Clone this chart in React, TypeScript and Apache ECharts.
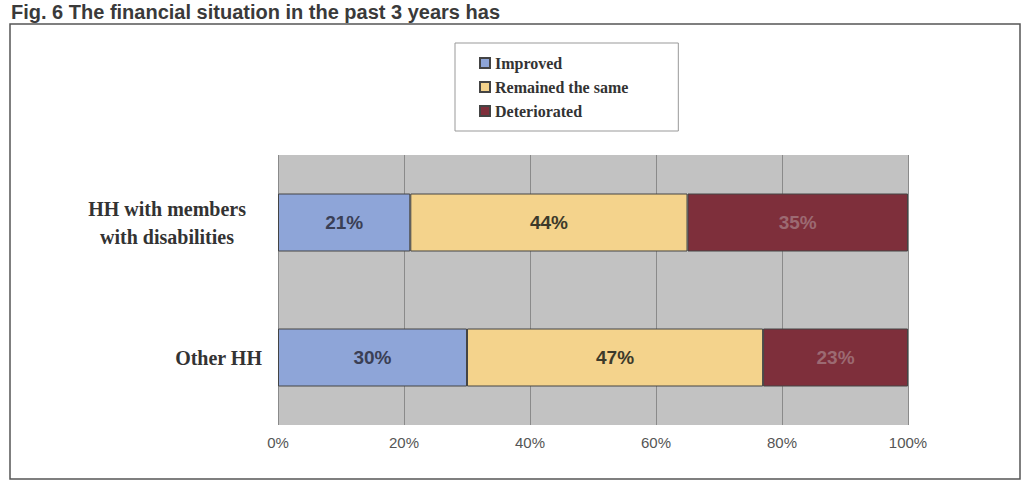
import React, { useEffect, useRef } from "react";
import * as echarts from "echarts";

const categories = ["Other HH", "HH with members\nwith disabilities"];
const seriesNames = ["Improved", "Remained the same", "Deteriorated"];
const improved = [30, 21];
const remained = [47, 44];
const deteriorated = [23, 35];
const xTicks = [0, 20, 40, 60, 80, 100];
const colors = ["#8ea5d8", "#f4d38c", "#7e2f3b"];
const labelColors = ["#3a3f55", "#3d3a2a", "#9c6a72"];

const labelFont = {
  fontFamily: "Liberation Serif, Times New Roman, serif",
  fontWeight: "bold" as const,
  fontSize: 20,
  color: "#333",
  lineHeight: 28,
};

export default function App() {
  const ref = useRef<HTMLDivElement>(null);
  useEffect(() => {
    const chart = echarts.init(ref.current!, undefined, { renderer: "svg" });
    const values = [improved, remained, deteriorated];
    chart.setOption({
      animation: false,
      backgroundColor: "#ffffff",
      title: {
        text: "Fig. 6 The financial situation in the past 3 years has",
        left: 6,
        top: -3,
        textStyle: { fontFamily: "Liberation Sans, Arial", fontWeight: "bold", fontSize: 20, color: "#3a3a3a" },
      },
      graphic: [
        {
          type: "rect",
          shape: { x: 10, y: 24, width: 1010, height: 455 },
          style: { fill: "none", stroke: "#555", lineWidth: 1.5 },
          z: -1,
        },
      ],
      legend: {
        orient: "vertical",
        left: 455,
        top: 43,
        data: seriesNames,
        itemWidth: 10,
        itemHeight: 10,
        itemGap: 8,
        padding: [12, 50, 12, 24],
        borderColor: "#999",
        borderWidth: 1,
        backgroundColor: "#fff",
        icon: "rect",
        textStyle: { fontFamily: "Liberation Serif, Times New Roman, serif", fontWeight: "bold", fontSize: 16, color: "#333" },
      },
      grid: { left: 278, right: 118, top: 155, bottom: 60, backgroundColor: "#c2c2c2", show: true, borderWidth: 0 },
      xAxis: {
        type: "value",
        min: 0,
        max: 100,
        interval: 20,
        axisLine: { show: false },
        axisTick: { show: false },
        splitLine: { show: true, lineStyle: { color: "#8a8a8a", width: 1 } },
        axisLabel: {
          formatter: (v: number) => (xTicks.includes(v) ? v + "%" : ""),
          fontFamily: "Liberation Sans, Arial",
          fontSize: 15,
          color: "#555",
          margin: 10,
        },
      },
      yAxis: {
        type: "category",
        data: categories,
        axisLine: { show: false },
        axisTick: { show: false },
        axisLabel: {
          ...labelFont,
          align: "right",
          margin: 16,
          formatter: (v: string) => {
            const lines = v.split("\n");
            if (lines.length === 1) return "{c|" + v + "}";
            return "{a|" + lines[0] + "}\n{b|" + lines[1] + "}";
          },
          rich: {
            a: { ...labelFont, padding: [0, 16, 0, 0] },
            b: { ...labelFont, padding: [0, 28, 0, 0] },
            c: { ...labelFont },
          },
        },
      },
      series: seriesNames.map((name, i) => ({
        name,
        type: "bar",
        stack: "total",
        data: values[i],
        barWidth: 58,
        itemStyle: { color: colors[i], borderColor: "#444", borderWidth: 1 },
        label: {
          show: true,
          formatter: (p: any) => p.value + "%",
          fontFamily: "Liberation Sans, Arial",
          fontWeight: "bold",
          fontSize: 19,
          color: labelColors[i],
        },
      })),
    });
    return () => chart.dispose();
  }, []);
  return <div ref={ref} style={{ position: "fixed", left: 0, top: 0, width: 1026, height: 485 }} />;
}
